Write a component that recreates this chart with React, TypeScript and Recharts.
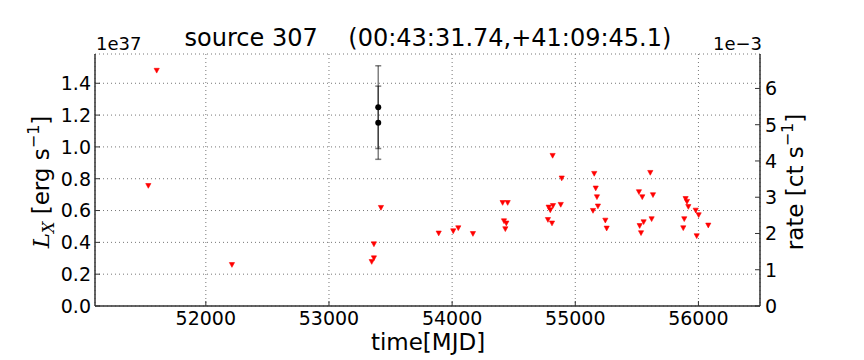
import React from 'react';
import { ScatterChart, Scatter, XAxis, YAxis, CartesianGrid, ErrorBar } from 'recharts';

// ---- data (L_X in units of 1e37 erg/s, time in MJD) ----
const ulMjd = [
  51533, 51601, 52212, 53347, 53365, 53365, 53422, 53891, 54009, 54050, 54169,
  54410, 54451, 54421, 54440, 54432, 54816, 54890, 54784, 54797, 54819, 54882,
  54778, 54811, 55154, 55166, 55176, 55184, 55144, 55244, 55255, 55517, 55544,
  55609, 55631, 55523, 55555, 55534, 55620, 55896, 55907, 55918, 55885, 55877,
  55978, 56002, 56080, 55986,
];
const ulLx = [
  0.755, 1.479, 0.258, 0.277, 0.3, 0.388, 0.617, 0.456, 0.47, 0.489, 0.453,
  0.648, 0.648, 0.533, 0.519, 0.483, 0.944, 0.802, 0.619, 0.602, 0.629, 0.636,
  0.541, 0.519, 0.831, 0.739, 0.684, 0.626, 0.598, 0.537, 0.487, 0.716, 0.684,
  0.837, 0.697, 0.503, 0.527, 0.458, 0.546, 0.673, 0.655, 0.623, 0.546, 0.489,
  0.6, 0.571, 0.506, 0.439,
];
const detMjd = [53400, 53400];
const detLx = [1.25, 1.152];
const detErr = [0.26, 0.23];

const xTicks = [52000, 53000, 54000, 55000, 56000];
const lxTicks = [0, 0.2, 0.4, 0.6, 0.8, 1.0, 1.2, 1.4];
const rateTicks = [0, 1, 2, 3, 4, 5, 6];
const xDomain = [51100, 56500];
const lxDomain = [0, 1.584];
const rateDomain = [0, 6.95];

const ulData = ulMjd.map((m, i) => ({ mjd: m, lx: ulLx[i] }));
const detData = detMjd.map((m, i) => ({ mjd: m, lx: detLx[i], err: detErr[i] }));

const FONT = 'DejaVu Sans';
const AX = '#333';
const TICK_FS = 19;

const BottomTick = (p: any) => (
  <g>
    <line x1={p.x} x2={p.x} y1={p.y} y2={p.y - 5} stroke={AX} strokeWidth={1} />
    <text x={p.x} y={p.y + 19} textAnchor="middle" fontSize={TICK_FS} fontFamily={FONT} fill="#000">
      {p.payload.value}
    </text>
  </g>
);
const TopTick = (p: any) => (
  <g>
    <line x1={p.x} x2={p.x} y1={p.y} y2={p.y + 5} stroke={AX} strokeWidth={1} />
  </g>
);
const LeftTick = (p: any) => (
  <g>
    <line x1={p.x} x2={p.x + 5} y1={p.y} y2={p.y} stroke={AX} strokeWidth={1} />
    <text x={p.x - 4} y={p.y} dy="0.36em" textAnchor="end" fontSize={TICK_FS} fontFamily={FONT} fill="#000">
      {Number(p.payload.value).toFixed(1)}
    </text>
  </g>
);
const RightTick = (p: any) => (
  <g>
    <line x1={p.x - 5} x2={p.x} y1={p.y} y2={p.y} stroke={AX} strokeWidth={1} />
    <text x={p.x + 5} y={p.y} dy="0.36em" textAnchor="start" fontSize={TICK_FS} fontFamily={FONT} fill="#000">
      {p.payload.value}
    </text>
  </g>
);

const TriDown = (p: any) => {
  const { cx, cy } = p;
  if (cx == null || cy == null) return <g />;
  const w = 2.6;
  const h = 2.4;
  return <path d={`M${cx - w},${cy - h}L${cx + w},${cy - h}L${cx},${cy + h}Z`} fill="#ff0000" stroke="#ff0000" strokeWidth={0.6} />;
};
const Dot = (p: any) => {
  const { cx, cy } = p;
  if (cx == null || cy == null) return <g />;
  return <circle cx={cx} cy={cy} r={3} fill="#000" />;
};

export default function App() {
  return (
    <div style={{ position: 'absolute', left: 0, top: 0, width: 864, height: 360, background: '#fff' }}>
      <ScatterChart width={864} height={360} margin={{ top: 54, right: 54, bottom: 24, left: 45 }}>
        <XAxis
          xAxisId="b"
          type="number"
          dataKey="mjd"
          domain={xDomain}
          ticks={xTicks}
          interval={0}
          allowDataOverflow
          tickSize={0}
          tickMargin={0}
          tickLine={false}
          tick={<BottomTick />}
          height={30}
          axisLine={{ stroke: AX, strokeWidth: 1.5 }}
        />
        <XAxis
          xAxisId="t"
          orientation="top"
          type="number"
          dataKey="mjd"
          domain={xDomain}
          ticks={xTicks}
          interval={0}
          allowDataOverflow
          tickSize={0}
          tickMargin={0}
          tickLine={false}
          tick={<TopTick />}
          height={0}
          axisLine={{ stroke: AX, strokeWidth: 1.5 }}
        />
        <YAxis
          yAxisId="L"
          type="number"
          dataKey="lx"
          domain={lxDomain}
          ticks={lxTicks}
          interval={0}
          allowDataOverflow
          tickSize={0}
          tickMargin={0}
          tickLine={false}
          tick={<LeftTick />}
          width={50}
          axisLine={{ stroke: AX, strokeWidth: 1.5 }}
        />
        <YAxis
          yAxisId="R"
          orientation="right"
          type="number"
          dataKey="rate"
          domain={rateDomain}
          ticks={rateTicks}
          interval={0}
          allowDataOverflow
          tickSize={0}
          tickMargin={0}
          tickLine={false}
          tick={<RightTick />}
          width={50}
          axisLine={{ stroke: AX, strokeWidth: 1.5 }}
        />
        <CartesianGrid
          xAxisId="b"
          yAxisId="L"
          stroke="#777"
          strokeDasharray="1 3"
          strokeWidth={1}
        />
        <Scatter
          xAxisId="b"
          yAxisId="L"
          data={ulData}
          shape={<TriDown />}
          isAnimationActive={false}
        />
        <Scatter
          xAxisId="b"
          yAxisId="L"
          data={detData}
          shape={<Dot />}
          isAnimationActive={false}
        >
          <ErrorBar dataKey="err" direction="y" width={3} stroke="#000" strokeOpacity={0.5} strokeWidth={1.5} />
        </Scatter>
      </ScatterChart>
      <svg width={864} height={360} style={{ position: 'absolute', left: 0, top: 0, pointerEvents: 'none' }}>
        <text x={428} y={46} textAnchor="middle" fontSize={24} fontFamily={FONT} fill="#000" style={{ whiteSpace: 'pre' }}>
          {'source 307    (00:43:31.74,+41:09:45.1)'}
        </text>
        <text x={96} y={50} textAnchor="start" fontSize={18} fontFamily={FONT} fill="#000">1e37</text>
        <text x={762} y={50} textAnchor="end" fontSize={18} fontFamily={FONT} fill="#000">1e−3</text>
        <text x={428} y={350} textAnchor="middle" fontSize={23} fontFamily={FONT} fill="#000">time[MJD]</text>
        <text transform="translate(49,182) rotate(-90)" textAnchor="middle" fontSize={23} fontFamily={FONT} fill="#000">
          <tspan fontFamily="DejaVu Serif" fontStyle="italic">L</tspan>
          <tspan fontFamily="DejaVu Serif" fontStyle="italic" fontSize={16} dy={5}>X</tspan>
          <tspan dy={-5}> [erg s</tspan>
          <tspan fontSize={16} dy={-10}>−1</tspan>
          <tspan dy={10}>]</tspan>
        </text>
        <text transform="translate(803,182) rotate(-90)" textAnchor="middle" fontSize={23} fontFamily={FONT} fill="#000">
          <tspan>rate [ct s</tspan>
          <tspan fontSize={16} dy={-10}>−1</tspan>
          <tspan dy={10}>]</tspan>
        </text>
      </svg>
    </div>
  );
}
